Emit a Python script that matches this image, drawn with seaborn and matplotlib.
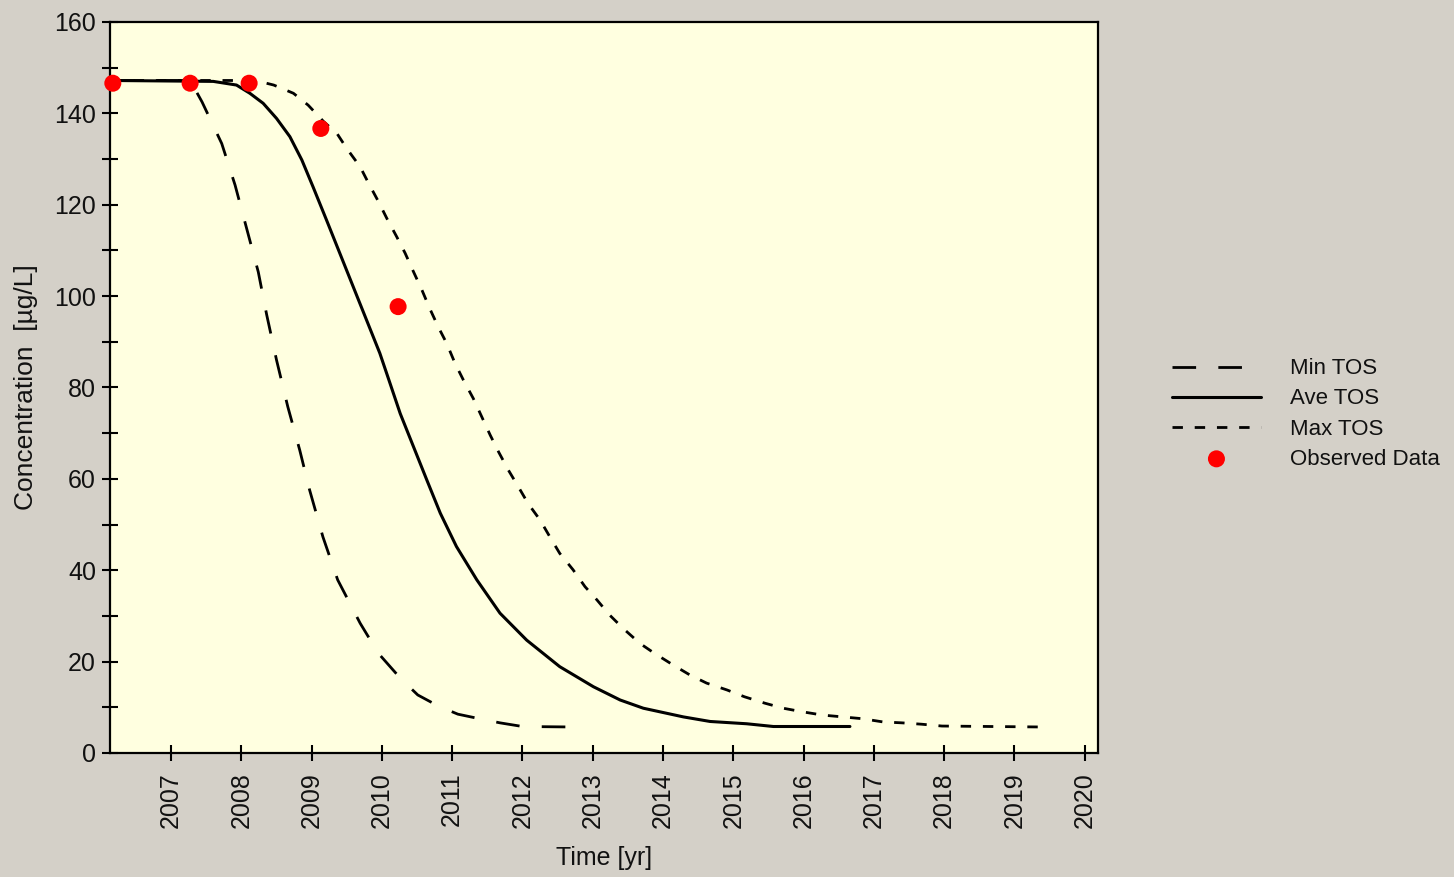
import matplotlib
matplotlib.use("Agg")
import matplotlib.pyplot as plt
import seaborn as sns
from matplotlib.ticker import MultipleLocator

# ---- data ----
min_x = [2006.15, 2007.20, 2007.30, 2007.44, 2007.72, 2007.91, 2008.08, 2008.24, 2008.36,
         2008.50, 2008.66, 2008.83, 2008.97, 2009.16, 2009.37, 2009.69, 2009.95, 2010.26,
         2010.51, 2010.80, 2011.08, 2011.42, 2011.68, 2012.00, 2012.67]
min_y = [147.2, 147.2, 146.4, 142.5, 133.4, 124.3, 114.5, 105.3, 95.9,
         86.0, 75.8, 66.3, 57.6, 47.3, 37.9, 28.4, 21.8, 16.4,
         12.7, 10.3, 8.5, 7.4, 6.6, 5.8, 5.7]

ave_x = [2006.15, 2007.60, 2007.93, 2008.12, 2008.31, 2008.50, 2008.69, 2008.86, 2009.02,
         2009.21, 2009.40, 2009.59, 2009.78, 2009.97, 2010.10, 2010.26, 2010.45, 2010.64,
         2010.83, 2011.06, 2011.35, 2011.68, 2012.06, 2012.53, 2013.01, 2013.39, 2013.72,
         2014.05, 2014.29, 2014.67, 2015.19, 2015.57, 2016.66]
ave_y = [147.2, 147.0, 146.2, 144.4, 142.2, 138.9, 134.9, 129.8, 123.9,
         116.7, 109.4, 102.1, 94.8, 87.5, 81.6, 74.3, 67.0, 59.7,
         52.5, 45.2, 37.9, 30.6, 24.7, 18.9, 14.5, 11.6, 9.8,
         8.7, 7.9, 6.9, 6.4, 5.8, 5.8]

max_x = [2006.15, 2008.20, 2008.46, 2008.74, 2008.95, 2009.17, 2009.36, 2009.50, 2009.69,
         2009.81, 2009.95, 2010.07, 2010.21, 2010.33, 2010.45, 2010.57, 2010.68, 2010.80,
         2010.92, 2011.04, 2011.16, 2011.30, 2011.42, 2011.54, 2011.66, 2011.80, 2011.94,
         2012.08, 2012.25, 2012.39, 2012.53, 2012.72, 2012.89, 2013.06, 2013.24, 2013.43,
         2013.67, 2013.88, 2014.14, 2014.38, 2014.62, 2014.91, 2015.16, 2015.45, 2015.71,
         2015.99, 2016.27, 2016.56, 2016.84, 2017.13, 2017.40, 2017.68, 2017.97, 2019.35]
max_y = [147.2, 147.2, 146.2, 144.4, 141.8, 138.2, 135.6, 132.3, 128.3,
         124.7, 120.7, 117.0, 113.0, 109.4, 105.3, 101.3, 97.3, 93.3,
         89.7, 85.3, 81.6, 77.6, 73.6, 69.6, 65.9, 61.9, 58.3,
         54.6, 51.0, 47.3, 43.7, 40.1, 36.4, 33.5, 30.2, 27.3,
         24.0, 21.8, 19.3, 17.1, 15.3, 13.8, 12.3, 10.9, 9.8,
         9.0, 8.3, 7.9, 7.5, 6.8, 6.6, 6.3, 5.9, 5.7]

obs_x = [2006.17, 2007.27, 2008.11, 2009.13, 2010.23]
obs_y = [146.6, 146.6, 146.6, 136.7, 97.7]

series_labels = ["Min TOS", "Ave TOS", "Max TOS", "Observed Data"]
x_ticks = list(range(2007, 2021))
y_ticks = list(range(0, 161, 20))

# ---- style ----
sns.set_theme(style="white")
plt.rcParams["font.family"] = ["Liberation Sans", "DejaVu Sans"]
plt.rcParams["lines.scale_dashes"] = False

W, H = 1454, 877
fig = plt.figure(figsize=(W / 100, H / 100), dpi=100, facecolor="#D4D0C8")
ax = fig.add_axes([110 / W, 1 - 753 / H, (1098 - 110) / W, (753 - 22) / H])
ax.set_facecolor("#FFFFE0")

sns.lineplot(x=min_x, y=min_y, ax=ax, color="black", linewidth=2.0,
             linestyle=(0, (17, 16)), label=series_labels[0], estimator=None)
sns.lineplot(x=ave_x, y=ave_y, ax=ax, color="black", linewidth=2.2,
             linestyle="-", label=series_labels[1], estimator=None)
sns.lineplot(x=max_x, y=max_y, ax=ax, color="black", linewidth=2.0,
             linestyle=(0, (7.5, 8.5)), label=series_labels[2], estimator=None)
sns.scatterplot(x=obs_x, y=obs_y, ax=ax, color="#FF0000", s=150, edgecolor="none",
                label=series_labels[3], clip_on=False, zorder=5)

ax.set_xlim(2006.13, 2020.19)
ax.set_ylim(0, 160)
ax.set_xticks(x_ticks)
ax.set_xticklabels([str(t) for t in x_ticks], rotation=90)
ax.set_yticks(y_ticks)
ax.yaxis.set_minor_locator(MultipleLocator(10))
ax.tick_params(which="both", direction="inout", length=12, width=1.5, color="black",
               left=True, bottom=True, labelsize=18, labelcolor="#111111")
ax.tick_params(axis="y", pad=4)
ax.tick_params(axis="x", pad=8)

for s in ax.spines.values():
    s.set_visible(True)
    s.set_color("black")
    s.set_linewidth(1.6)

ax.set_xlabel("Time [yr]", fontsize=18, color="#111111")
ax.set_ylabel("Concentration  [µg/L]", fontsize=19, color="#111111")
ax.xaxis.set_label_coords(0.5, -0.127)
ax.xaxis.label.set_va("top")
ax.yaxis.set_label_coords(-0.073, 0.5)

handles, labels = ax.get_legend_handles_labels()
ax.legend(handles, labels, loc="center left", bbox_to_anchor=(1172 / W, 1 - 414 / H),
          bbox_transform=fig.transFigure, frameon=False, fontsize=16,
          handlelength=4.0, handletextpad=1.3, labelspacing=0.41,
          borderpad=0, borderaxespad=0, labelcolor="#111111")

fig.savefig("out.png", dpi=100, facecolor=fig.get_facecolor())
